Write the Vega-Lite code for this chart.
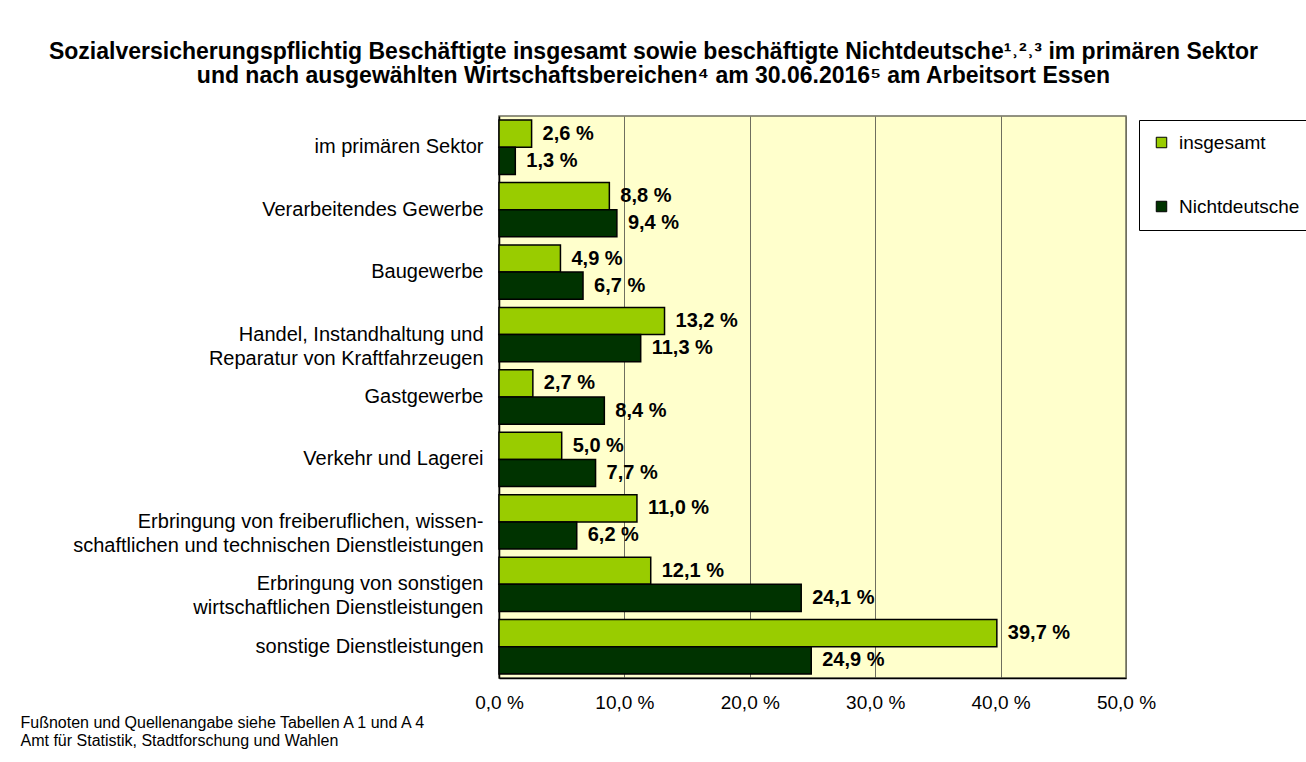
{
  "$schema": "https://vega.github.io/schema/vega-lite/v6.json",
  "width": 627,
  "height": 562,
  "autosize": {"type": "none"},
  "padding": {"left": 499, "top": 116, "right": 180, "bottom": 84},
  "background": "white",
  "title": {
    "text": ["Sozialversicherungspflichtig Beschäftigte insgesamt sowie beschäftigte Nichtdeutsche¹˒²˒³ im primären Sektor", "und nach ausgewählten Wirtschaftsbereichen⁴ am 30.06.2016⁵ am Arbeitsort Essen"],
    "font": "Liberation Sans",
    "fontSize": 23,
    "fontWeight": "bold",
    "color": "black",
    "lineHeight": 24,
    "anchor": "middle",
    "dx": -159,
    "offset": 28
  },
  "data": {
    "values": [
      {"cat": "im primären Sektor", "series": "insgesamt", "value": 2.6},
      {"cat": "im primären Sektor", "series": "Nichtdeutsche", "value": 1.3},
      {"cat": "Verarbeitendes Gewerbe", "series": "insgesamt", "value": 8.8},
      {"cat": "Verarbeitendes Gewerbe", "series": "Nichtdeutsche", "value": 9.4},
      {"cat": "Baugewerbe", "series": "insgesamt", "value": 4.9},
      {"cat": "Baugewerbe", "series": "Nichtdeutsche", "value": 6.7},
      {"cat": "Handel, Instandhaltung und|Reparatur von Kraftfahrzeugen", "series": "insgesamt", "value": 13.2},
      {"cat": "Handel, Instandhaltung und|Reparatur von Kraftfahrzeugen", "series": "Nichtdeutsche", "value": 11.3},
      {"cat": "Gastgewerbe", "series": "insgesamt", "value": 2.7},
      {"cat": "Gastgewerbe", "series": "Nichtdeutsche", "value": 8.4},
      {"cat": "Verkehr und Lagerei", "series": "insgesamt", "value": 5.0},
      {"cat": "Verkehr und Lagerei", "series": "Nichtdeutsche", "value": 7.7},
      {"cat": "Erbringung von freiberuflichen, wissen-|schaftlichen und technischen Dienstleistungen ", "series": "insgesamt", "value": 11.0},
      {"cat": "Erbringung von freiberuflichen, wissen-|schaftlichen und technischen Dienstleistungen ", "series": "Nichtdeutsche", "value": 6.2},
      {"cat": "Erbringung von sonstigen|wirtschaftlichen Dienstleistungen ", "series": "insgesamt", "value": 12.1},
      {"cat": "Erbringung von sonstigen|wirtschaftlichen Dienstleistungen ", "series": "Nichtdeutsche", "value": 24.1},
      {"cat": "sonstige Dienstleistungen", "series": "insgesamt", "value": 39.7},
      {"cat": "sonstige Dienstleistungen", "series": "Nichtdeutsche", "value": 24.9}
    ]
  },
  "encoding": {
    "y": {
      "field": "cat",
      "type": "nominal",
      "sort": null,
      "scale": {"paddingInner": 0.13, "paddingOuter": 0.065},
      "axis": {
        "title": null,
        "labelExpr": "split(datum.label, '|')",
        "labelFont": "Liberation Sans",
        "labelFontSize": 20,
        "labelColor": "black",
        "labelLimit": 500,
        "labelLineHeight": 24,
        "labelPadding": 16,
        "ticks": false,
        "domainColor": "black",
        "domainWidth": 1.5
      }
    },
    "yOffset": {
      "field": "series",
      "type": "nominal",
      "sort": ["insgesamt", "Nichtdeutsche"],
      "scale": {"paddingInner": 0, "paddingOuter": 0}
    },
    "x": {
      "field": "value",
      "type": "quantitative",
      "scale": {"domain": [0, 50], "nice": false},
      "axis": {
        "values": [0, 10, 20, 30, 40, 50],
        "labelExpr": "replace(format(datum.value, '.1f'), '.', ',') + ' %'",
        "labelFont": "Liberation Sans",
        "labelFontSize": 19,
        "labelColor": "black",
        "labelPadding": 15,
        "labelFlush": false,
        "labelOverlap": false,
        "labelBound": false,
        "ticks": false,
        "grid": true,
        "gridColor": "#6f6f5f",
        "gridWidth": 1,
        "domainColor": "black",
        "domainWidth": 1.5,
        "title": ["Fußnoten und Quellenangabe siehe Tabellen A 1 und A 4", "Amt für Statistik, Stadtforschung und Wahlen"],
        "titleFont": "Liberation Sans",
        "titleFontSize": 16,
        "titleFontWeight": "normal",
        "titleColor": "black",
        "titleAlign": "left",
        "titleBaseline": "top",
        "titleLineHeight": 18,
        "titleX": -479,
        "titleY": 36
      }
    },
    "color": {
      "field": "series",
      "type": "nominal",
      "scale": {"domain": ["insgesamt", "Nichtdeutsche"], "range": ["#99CC00", "#003300"]},
      "legend": {
        "title": null,
        "orient": "none",
        "legendX": 640,
        "legendY": 4,
        "direction": "vertical",
        "strokeColor": "black",
        "fillColor": "white",
        "padding": 13,
        "rowPadding": 44,
        "symbolType": "square",
        "symbolSize": 110,
        "symbolStrokeColor": "black",
        "symbolStrokeWidth": 1,
        "symbolOpacity": 1,
        "labelFont": "Liberation Sans",
        "labelFontSize": 19,
        "labelColor": "black",
        "labelOffset": 8
      }
    }
  },
  "layer": [
    {
      "mark": {"type": "bar", "stroke": "black", "strokeWidth": 1.5, "opacity": 1}
    },
    {
      "mark": {
        "type": "text",
        "align": "left",
        "baseline": "middle",
        "dx": 11,
        "font": "Liberation Sans",
        "fontSize": 20,
        "fontWeight": "bold",
        "color": "black",
        "text": {"expr": "replace(format(datum.value, '.1f'), '.', ',') + ' %'"}
      },
      "encoding": {"color": {"value": "black"}}
    }
  ],
  "config": {
    "view": {"fill": "#FFFFCC", "stroke": "#6f6f5f", "strokeWidth": 1.5}
  }
}
